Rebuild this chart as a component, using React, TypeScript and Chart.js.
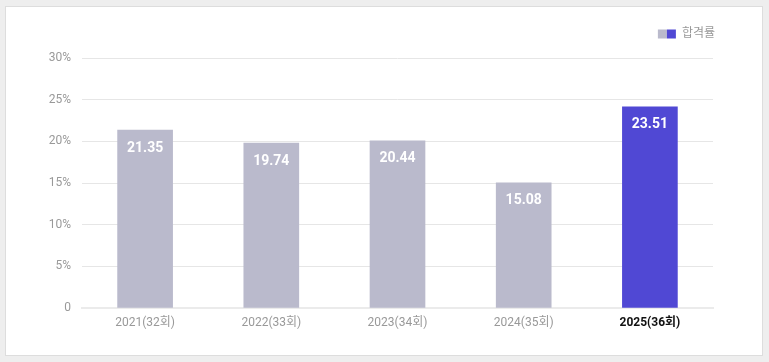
import React, { useEffect, useRef } from "react";
import { Chart, registerables } from "chart.js";

Chart.register(...registerables);

const categories = ["2021(32회)", "2022(33회)", "2023(34회)", "2024(35회)", "2025(36회)"];
const barValues = [21.35, 19.78, 20.06, 15.02, 24.15];
const valueLabels = ["21.35", "19.74", "20.44", "15.08", "23.51"];
const yTicks = [0, 5, 10, 15, 20, 25, 30];
const seriesName = "합격률";

const GRAY = "#babacc";
const BLUE = "#5048d4";
const FONT = "Roboto, 'Noto Sans CJK KR', sans-serif";

const barColors = categories.map((_, i) => (i === categories.length - 1 ? BLUE : GRAY));

export default function App() {
  const ref = useRef<HTMLCanvasElement | null>(null);

  useEffect(() => {
    document.body.style.background = "#eeeeee";
    document.body.style.margin = "0";
    const canvas = ref.current;
    if (!canvas) return;

    const valueLabelPlugin = {
      id: "valueLabels",
      afterDatasetsDraw(chart: any) {
        const ctx = chart.ctx;
        const meta = chart.getDatasetMeta(0);
        ctx.save();
        ctx.fillStyle = "#ffffff";
        ctx.font = `bold 14px ${FONT}`;
        ctx.textAlign = "center";
        ctx.textBaseline = "middle";
        meta.data.forEach((bar: any, i: number) => {
          ctx.fillText(valueLabels[i], bar.x, bar.y + 18);
        });
        ctx.restore();
      },
    };

    const legendPlugin = {
      id: "customLegend",
      afterDraw(chart: any) {
        const ctx = chart.ctx;
        const area = chart.chartArea;
        ctx.save();
        ctx.font = `12px ${FONT}`;
        ctx.textBaseline = "middle";
        const tw = ctx.measureText(seriesName).width;
        const right = area.right + 2;
        const ty = 27;
        const tx = right - tw;
        ctx.fillStyle = "#999999";
        ctx.fillText(seriesName, tx, ty);
        const bx = tx - 6 - 18;
        ctx.fillStyle = GRAY;
        ctx.fillRect(bx, ty - 4.5, 9, 9);
        ctx.fillStyle = BLUE;
        ctx.fillRect(bx + 9, ty - 4.5, 9, 9);
        ctx.restore();
      },
    };

    const chart = new Chart(canvas, {
      type: "bar",
      data: {
        labels: categories,
        datasets: [
          {
            label: seriesName,
            data: barValues,
            backgroundColor: barColors,
            borderWidth: 0,
            barThickness: 55,
          },
        ],
      },
      options: {
        animation: false,
        responsive: false,
        maintainAspectRatio: false,
        layout: { padding: { left: 0, right: 49, top: 51, bottom: 0 } },
        plugins: {
          legend: { display: false },
          tooltip: { enabled: false },
        },
        scales: {
          x: {
            grid: { display: false },
            border: { display: true, color: "#ebebeb", width: 2 },
            ticks: {
              padding: 0,
              font: (c: any) => ({
                family: FONT,
                size: 12,
                weight: c.index === categories.length - 1 ? "bold" : "normal",
              }),
              color: (c: any) => (c.index === categories.length - 1 ? "#111111" : "#999999"),
            },
            afterFit: (s: any) => {
              s.height = 47;
            },
          },
          y: {
            min: 0,
            max: 30,
            afterBuildTicks: (s: any) => {
              s.ticks = yTicks.map((v) => ({ value: v }));
            },
            grid: { color: "#e6e6e6", drawTicks: false },
            border: { display: false },
            ticks: {
              padding: 11,
              font: { family: FONT, size: 12 },
              color: "#999999",
              callback: (v: any) => (Number(v) === 0 ? "0" : `${v}%`),
            },
            afterFit: (s: any) => {
              s.width = 76;
            },
          },
        },
      },
      plugins: [valueLabelPlugin, legendPlugin],
    });
    return () => chart.destroy();
  }, []);

  return (
    <div
      style={{
        position: "absolute",
        left: 5,
        top: 6,
        width: 758,
        height: 350,
        boxSizing: "border-box",
        border: "1px solid #dddddd",
        background: "#ffffff",
      }}
    >
      <canvas ref={ref} width={756} height={348} style={{ display: "block", width: 756, height: 348 }} />
    </div>
  );
}
